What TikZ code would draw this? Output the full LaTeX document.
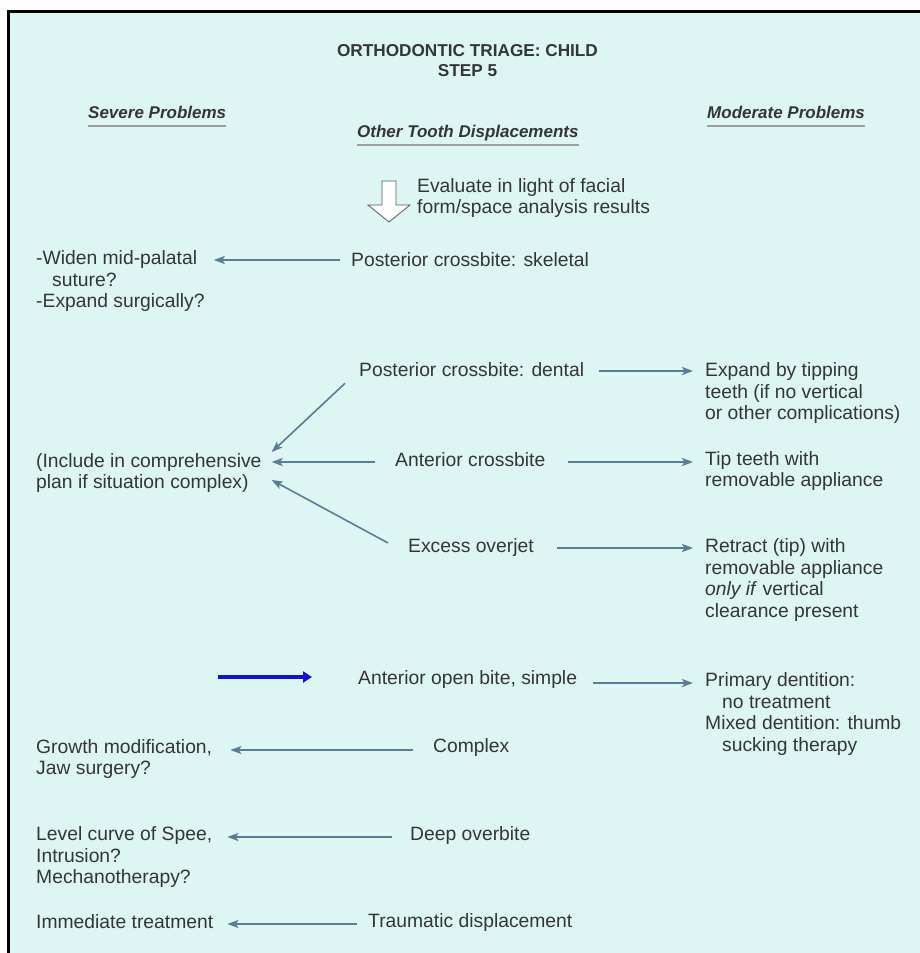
\documentclass[tikz,border=0pt]{standalone}
\usepackage{fontspec}
\setmainfont{Liberation Sans}
\usetikzlibrary{arrows.meta,calc}
\definecolor{bgc}{HTML}{DDF6F3}
\definecolor{txt}{HTML}{353535}
\definecolor{arc}{HTML}{5A7C94}
\definecolor{blu}{HTML}{1212C8}
\begin{document}
\begin{tikzpicture}[x=1pt,y=-1pt,
 body/.style={font=\fontsize{19.3}{21.5}\selectfont, text=txt, inner sep=0pt, align=left, anchor=west},
 head/.style={font=\bfseries\itshape\fontsize{17}{19}\selectfont, text=txt, inner sep=0pt, anchor=west},
 arr/.style={draw=arc, line width=1.6pt, -{Stealth[length=11pt,width=8pt,inset=2.5pt]}},
 bluearr/.style={draw=blu, line width=3.5pt, -{Triangle[length=9pt,width=11pt]}},
 uline/.style={draw=gray!75, line width=2pt}]
\useasboundingbox (0,0) rectangle (920,953);
\fill[white] (0,0) rectangle (920,953);
\fill[bgc] (8,11) rectangle (920,953);
\draw[black, line width=3pt] (8,953) -- (8,11) -- (920,11);

% title and headings
\node[font=\bfseries\fontsize{17.2}{20}\selectfont, text=txt, align=center, inner sep=0pt] (title) at (467.5,61) {ORTHODONTIC TRIAGE: CHILD\\STEP 5};
\node[head] (severe) at (88,112) {Severe Problems};
\node[head] (other) at (357,133) {Other Tooth Displacements};
\node[head] (moderate) at (707,112) {Moderate Problems};
\draw[uline] ($(severe.base west)+(0,8)$) -- ($(severe.base east)+(0,8)$);
\draw[uline] ($(other.base west)+(0,8)$) -- ($(other.base east)+(0,8)$);
\draw[uline] ($(moderate.base west)+(0,8)$) -- ($(moderate.base east)+(0,8)$);

% hollow arrow
\draw[draw=gray!70!black, fill=white, line width=0.8pt, line join=miter]
  (382,181) -- (396,181) -- (396,205) -- (410,205) -- (389,222) -- (368,205) -- (382,205) -- cycle;
\node[body] (eval) at (417,198) {Evaluate in light of facial\\form/space analysis results};

% middle column
\node[body] (skel) at (351,260) {Posterior crossbite: skeletal};
\node[body] (dental) at (359,370) {Posterior crossbite: dental};
\node[body] (antx) at (395,460) {Anterior crossbite};
\node[body] (overjet) at (408,548) {Excess overjet};
\node[body] (openbite) at (358,680) {Anterior open bite, simple};
\node[body] (complex) at (433,748) {Complex};
\node[body] (deep) at (410,835) {Deep overbite};
\node[body] (trauma) at (368,922) {Traumatic displacement};

% left column
\node[body] (widen) at (36,281.5) {-Widen mid-palatal\\\hspace*{16pt}suture?\\-Expand surgically?};
\node[body] (include) at (36,473) {(Include in comprehensive\\plan if situation complex)};
\node[body] (growth) at (36,759) {Growth modification,\\Jaw surgery?};
\node[body] (level) at (36,857) {Level curve of Spee,\\Intrusion?\\Mechanotherapy?};
\node[body] (immed) at (36,922) {Immediate treatment};

% right column
\node[body] (expand) at (705,393.5) {Expand by tipping\\teeth (if no vertical\\or other complications)};
\node[body] (tip) at (705,471) {Tip teeth with\\removable appliance};
\node[body] (retract) at (705,580) {Retract (tip) with\\removable appliance\\\textit{only if} vertical\\clearance present};
\node[body] (primary) at (705,714) {Primary dentition:\\\hspace*{17pt}no treatment\\Mixed dentition: thumb\\\hspace*{17pt}sucking therapy};

% connectors
\draw[arr] ($(skel.west)+(-11,0)$) -- ($(skel.west -| widen.east)+(9,0)$);
\draw[arr] ($(dental.east)+(15,1)$) -- ($(dental.east -| expand.west)+(-12,1)$);
\draw[arr] ($(dental.south west)+(-14,6)$) -- ($(include.north east)+(10,-1)$);
\draw[arr] ($(antx.west)+(-20,2)$) -- ($(antx.west -| include.east)+(10,2)$);
\draw[arr] ($(antx.east)+(22,2)$) -- ($(antx.east -| tip.west)+(-12,2)$);
\draw[arr] ($(overjet.west)+(-20,-5)$) -- ($(include.east)+(10,7)$);
\draw[arr] ($(overjet.east)+(23,0)$) -- ($(overjet.east -| retract.west)+(-12,0)$);
\draw[arr] ($(openbite.east)+(16,3)$) -- ($(openbite.east -| primary.west)+(-12,3)$);
\draw[arr] ($(complex.west)+(-20,2)$) -- ($(complex.west -| growth.east)+(18,2)$);
\draw[arr] ($(deep.west)+(-18,2)$) -- ($(deep.west -| level.east)+(15,2)$);
\draw[arr] ($(trauma.west)+(-11,2)$) -- ($(trauma.west -| immed.east)+(14,2)$);

% blue pointer arrow
\coordinate (bstart) at (218,677);
\draw[bluearr] (bstart) -- ($(openbite.west)+(-46,-3)$);
\end{tikzpicture}
\end{document}
